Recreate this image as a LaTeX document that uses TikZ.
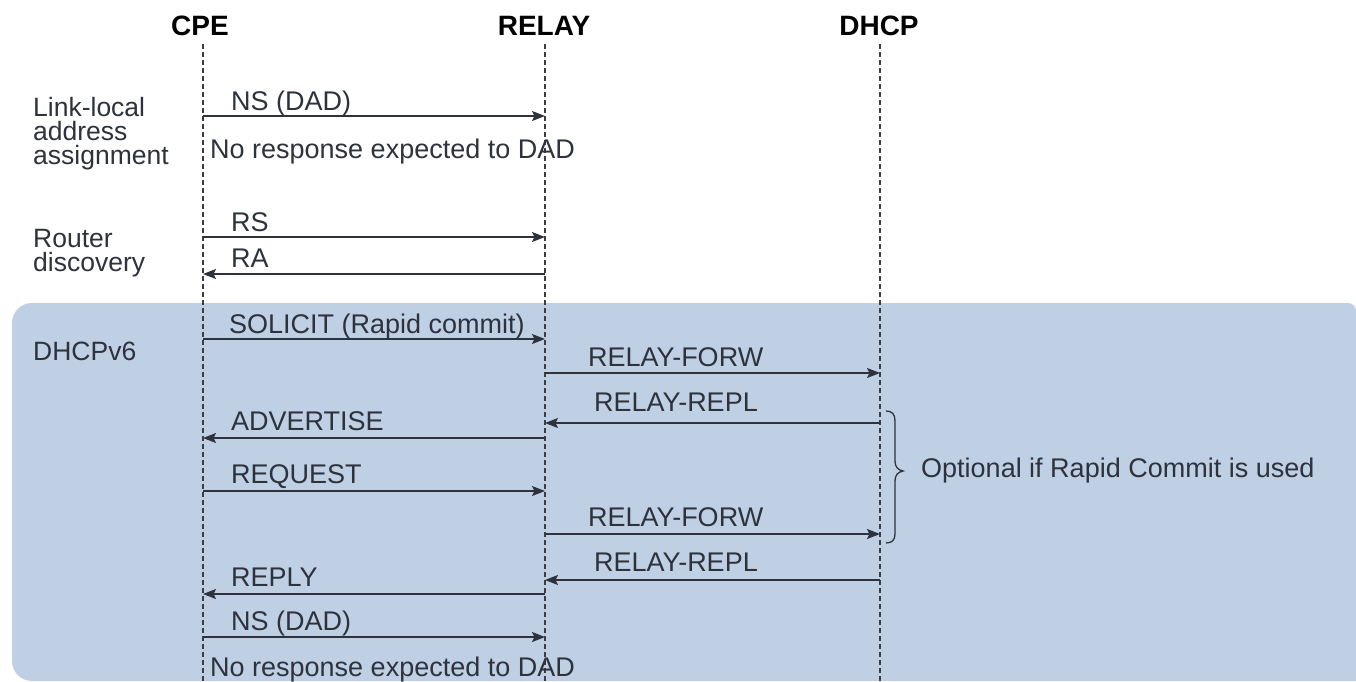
\documentclass[tikz,border=0pt]{standalone}
\usepackage{fontspec}
\setmainfont{Liberation Sans}
\usetikzlibrary{arrows.meta}
\definecolor{boxblue}{RGB}{191,208,229}
\definecolor{ink}{RGB}{45,50,60}
\definecolor{lifegray}{RGB}{60,62,68}
\tikzset{
  lifeline/.style={draw=lifegray, line width=1.1pt, dash pattern=on 5pt off 3pt},
  msg/.style={draw=ink, line width=1.6pt, -{Stealth[length=13pt,width=10pt,inset=2.5pt]}},
  lbl/.style={text=ink, inner sep=0pt, anchor=base west, font=\fontsize{27}{24}\selectfont},
  side/.style={text=ink, inner sep=0pt, anchor=base west, align=left, font=\fontsize{26.5}{24}\selectfont},
  head/.style={text=black, inner sep=0pt, anchor=base, font=\bfseries\fontsize{28}{30}\selectfont},
  bracepath/.style={draw=ink, line width=1.3pt}
}
\begin{document}
\begin{tikzpicture}[x=1pt,y=-1pt]
\useasboundingbox (0,0) rectangle (1356,681);
% blue DHCPv6 area
\fill[boxblue] (1356,681) [rounded corners=20] -- (12,681) -- (12,303) [rounded corners=8] -- (1356,303) [sharp corners] -- cycle;
% headers
\node[head] (hC) at (200,35) {CPE};
\node[head] (hR) at (544,35) {RELAY};
\node[head] (hD) at (879,35) {DHCP};
% lifelines
\coordinate (Ctop) at (203,44); \coordinate (Cbot) at (203,681);
\coordinate (Rtop) at (545,44); \coordinate (Rbot) at (545,681);
\coordinate (Dtop) at (880,44); \coordinate (Dbot) at (880,681);
\draw[lifeline] (Ctop) -- (Cbot);
\draw[lifeline] (Rtop) -- (Rbot);
\draw[lifeline] (Dtop) -- (Dbot);
% message anchor points
\foreach \n/\y in {a/116,b/237,c/274,d/339,e/373,f/423,g/438,h/491,i/534,j/580,k/594,l/637}{
  \coordinate (C\n) at (203,\y);
  \coordinate (R\n) at (545,\y);
  \coordinate (D\n) at (880,\y);
}
% side labels (base anchor = baseline of last line)
\node[side] (sLL) at (33,164) {Link-local\\address\\assignment};
\node[side] (sRD) at (33,271) {Router\\discovery};
\node[side] (sDH) at (33,360) {DHCPv6};
% messages
\draw[msg] (Ca) -- (Ra);
\node[lbl] (l1) at (231,110) {NS (DAD)};
\node[lbl] (l2) at (210,158) {No response expected to DAD};
\draw[msg] (Cb) -- (Rb);
\node[lbl] (l3) at (231,231) {RS};
\draw[msg] (Rc) -- (Cc);
\node[lbl] (l4) at (231,267) {RA};
\draw[msg] (Cd) -- (Rd);
\node[lbl] (l5) at (229,333) {SOLICIT (Rapid commit)};
\draw[msg] (Re) -- (De);
\node[lbl] (l6) at (588,366) {RELAY-FORW};
\draw[msg] (Df) -- (Rf);
\node[lbl] (l7) at (594,411) {RELAY-REPL};
\draw[msg] (Rg) -- (Cg);
\node[lbl] (l8) at (231,430) {ADVERTISE};
\draw[msg] (Ch) -- (Rh);
\node[lbl] (l9) at (231,483) {REQUEST};
\draw[msg] (Ri) -- (Di);
\node[lbl] (l10) at (588,526) {RELAY-FORW};
\draw[msg] (Dj) -- (Rj);
\node[lbl] (l11) at (594,571) {RELAY-REPL};
\draw[msg] (Rk) -- (Ck);
\node[lbl] (l12) at (231,586) {REPLY};
\draw[msg] (Cl) -- (Rl);
\node[lbl] (l13) at (231,630) {NS (DAD)};
\node[lbl] (l14) at (210,676) {No response expected to DAD};
% brace
\draw[bracepath] (886,411) .. controls (892,411) and (895,414) .. (895,421) -- (895,461)
  .. controls (895,467) and (898,470) .. (903,471)
  .. controls (898,472) and (895,475) .. (895,481) -- (895,534)
  .. controls (895,540) and (892,543) .. (886,543);
\node[lbl] (opt) at (921,477) {Optional if Rapid Commit is used};
\end{tikzpicture}
\end{document}
